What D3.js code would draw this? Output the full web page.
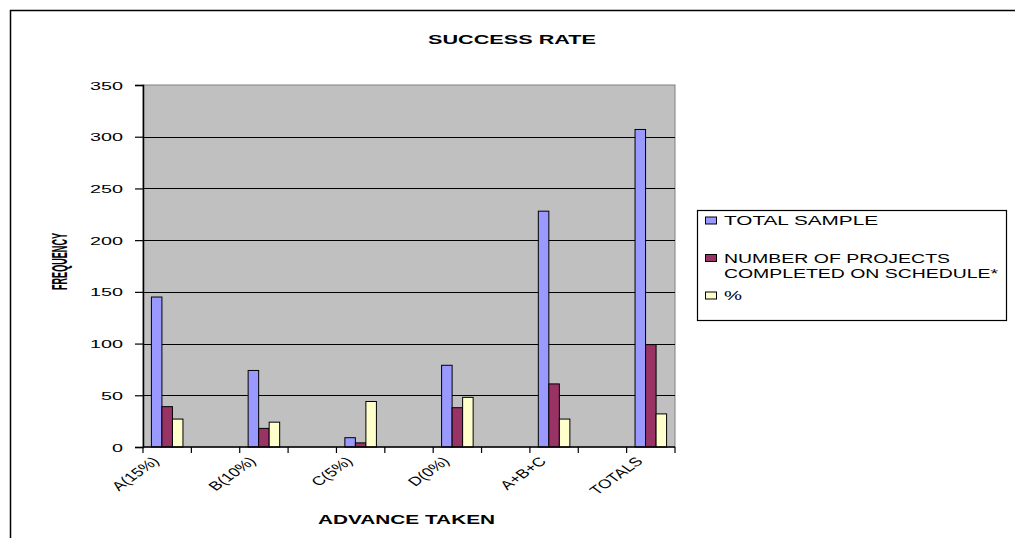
<!DOCTYPE html>
<html>
<head>
<meta charset="utf-8">
<script src="https://cdn.jsdelivr.net/npm/d3@7"></script>
<style>
  html, body { margin: 0; padding: 0; background: #fff; }
  svg { display: block; }
  text { font-family: "Liberation Sans", Arial, sans-serif; fill: #000; }
</style>
</head>
<body>
<svg id="chart" width="1015" height="538"></svg>
<script>
// Advance taken per group of projects
const categories = ["A(15%)", "B(10%)", "C(5%)", "D(0%)", "A+B+C", "TOTALS"];
const totalSample = [145, 74, 9, 79, 228, 307];
const onSchedule = [39, 18, 4, 38, 61, 99];
const percentOnSchedule = [27, 24, 44, 48, 27, 32];

const seriesNames = ["TOTAL SAMPLE", "NUMBER OF PROJECTS COMPLETED ON SCHEDULE*", "%"];
const seriesValues = [totalSample, onSchedule, percentOnSchedule];
const seriesColors = ["#9999FF", "#993366", "#FFFFCC"];
const yTicks = [0, 50, 100, 150, 200, 250, 300, 350];

const svg = d3.select("#chart");
const plot = { left: 143, right: 675, top: 85, bottom: 447 };
const labelStretch = 1.4; // horizontal widening of the rotated category labels
const titleStretch = 1.7; // horizontal widening of the vertical axis title

// chart area frame (left and top edges)
svg.append("path")
  .attr("d", "M10.5,538 V10.5 H1015")
  .attr("fill", "none").attr("stroke", "#000").attr("stroke-width", 1.5);

const x = d3.scaleBand().domain(categories)
  .range([plot.left, plot.right]).paddingInner(0.5).paddingOuter(0);
const xSeries = d3.scaleBand().domain(d3.range(seriesNames.length))
  .range([0, x.bandwidth()]).paddingInner(0).paddingOuter(0.8);
const y = d3.scaleLinear().domain([0, 350]).range([plot.bottom, plot.top]);

// plot background
svg.append("rect")
  .attr("x", plot.left).attr("y", plot.top)
  .attr("width", plot.right - plot.left).attr("height", plot.bottom - plot.top)
  .attr("fill", "#C0C0C0").attr("stroke", "#808080").attr("stroke-width", 1);

// gridlines
svg.append("g").selectAll("line")
  .data(yTicks.filter(v => v > 0 && v < 350))
  .join("line")
  .attr("x1", plot.left).attr("x2", plot.right)
  .attr("y1", d => Math.round(y(d)) + 0.5).attr("y2", d => Math.round(y(d)) + 0.5)
  .attr("stroke", "#000").attr("stroke-width", 1);

// bars
const groups = svg.append("g").selectAll("g")
  .data(categories)
  .join("g")
  .attr("transform", d => `translate(${x(d)},0)`);
groups.selectAll("rect")
  .data((c, i) => seriesValues.map((vals, s) => ({ s, v: vals[i] })))
  .join("rect")
  .attr("x", d => xSeries(d.s))
  .attr("width", xSeries.bandwidth())
  .attr("y", d => y(d.v))
  .attr("height", d => y(0) - y(d.v))
  .attr("fill", d => seriesColors[d.s])
  .attr("stroke", "#000").attr("stroke-width", 1);

// y axis
const yAxis = svg.append("g")
  .attr("transform", `translate(${plot.left},0)`)
  .call(d3.axisLeft(y).tickValues(yTicks).tickSize(8).tickPadding(12).tickFormat(d3.format("d")));
yAxis.select(".domain").attr("stroke", "#000").attr("stroke-width", 1.5);
yAxis.selectAll(".tick line").attr("stroke", "#000").attr("stroke-width", 1.2);
yAxis.selectAll(".tick text")
  .attr("font-size", 11.5)
  .attr("font-family", "Liberation Sans, Arial, sans-serif")
  .attr("x", -20)
  .attr("dy", "0.36em")
  .attr("textLength", d => String(d).length * 11)
  .attr("lengthAdjust", "spacingAndGlyphs");

// x axis with ticks at every band edge
const xEdges = [];
categories.forEach(c => { xEdges.push(x(c)); xEdges.push(x(c) + x.bandwidth()); });
const xAxisG = svg.append("g");
xAxisG.append("line")
  .attr("x1", plot.left).attr("x2", plot.right)
  .attr("y1", plot.bottom).attr("y2", plot.bottom)
  .attr("stroke", "#000").attr("stroke-width", 1.5);
xAxisG.selectAll("line.tk")
  .data(xEdges)
  .join("line").attr("class", "tk")
  .attr("x1", d => d).attr("x2", d => d)
  .attr("y1", plot.bottom).attr("y2", plot.bottom + 6)
  .attr("stroke", "#000").attr("stroke-width", 1.2);

// rotated category labels
xAxisG.selectAll("text")
  .data(categories)
  .join("text")
  .attr("transform", d => `translate(${x(d) + x.bandwidth() / 2 - 7},462) scale(${labelStretch},1) rotate(-45)`)
  .attr("text-anchor", "end")
  .attr("font-size", 12.5)
  .text(d => d);

// titles
svg.append("text")
  .attr("x", 428).attr("y", 43.5)
  .attr("font-size", 12).attr("font-weight", "bold")
  .attr("textLength", 168).attr("lengthAdjust", "spacingAndGlyphs")
  .text("SUCCESS RATE");

svg.append("text")
  .attr("x", 318).attr("y", 524)
  .attr("font-size", 12.5).attr("font-weight", "bold")
  .attr("textLength", 177).attr("lengthAdjust", "spacingAndGlyphs")
  .text("ADVANCE TAKEN");

svg.append("text")
  .attr("transform", `translate(67,290) scale(${titleStretch},1) rotate(-90)`)
  .attr("font-size", 13).attr("font-weight", "bold")
  .attr("textLength", 57).attr("lengthAdjust", "spacingAndGlyphs")
  .text("FREQUENCY");

// legend
const legend = svg.append("g");
legend.append("rect")
  .attr("x", 697.5).attr("y", 210.5).attr("width", 309).attr("height", 110)
  .attr("fill", "#fff").attr("stroke", "#000").attr("stroke-width", 1.2);

const legendRows = [
  { s: 0, swatchY: 217, lines: [{ t: "TOTAL SAMPLE", y: 225, w: 154 }] },
  { s: 1, swatchY: 254.5, lines: [{ t: "NUMBER OF PROJECTS", y: 262.5, w: 226 },
                                   { t: "COMPLETED ON SCHEDULE*", y: 278, w: 274 }] },
  { s: 2, swatchY: 292, lines: [{ t: "%", y: 300, w: 18 }] }
];
legendRows.forEach(row => {
  legend.append("rect")
    .attr("x", 705.5).attr("y", row.swatchY).attr("width", 11).attr("height", 7)
    .attr("fill", seriesColors[row.s]).attr("stroke", "#000").attr("stroke-width", 1);
  row.lines.forEach(l => {
    legend.append("text")
      .attr("x", 724).attr("y", l.y)
      .attr("font-size", 12)
      .attr("textLength", l.w).attr("lengthAdjust", "spacingAndGlyphs")
      .text(l.t);
  });
});
</script>
</body>
</html>
